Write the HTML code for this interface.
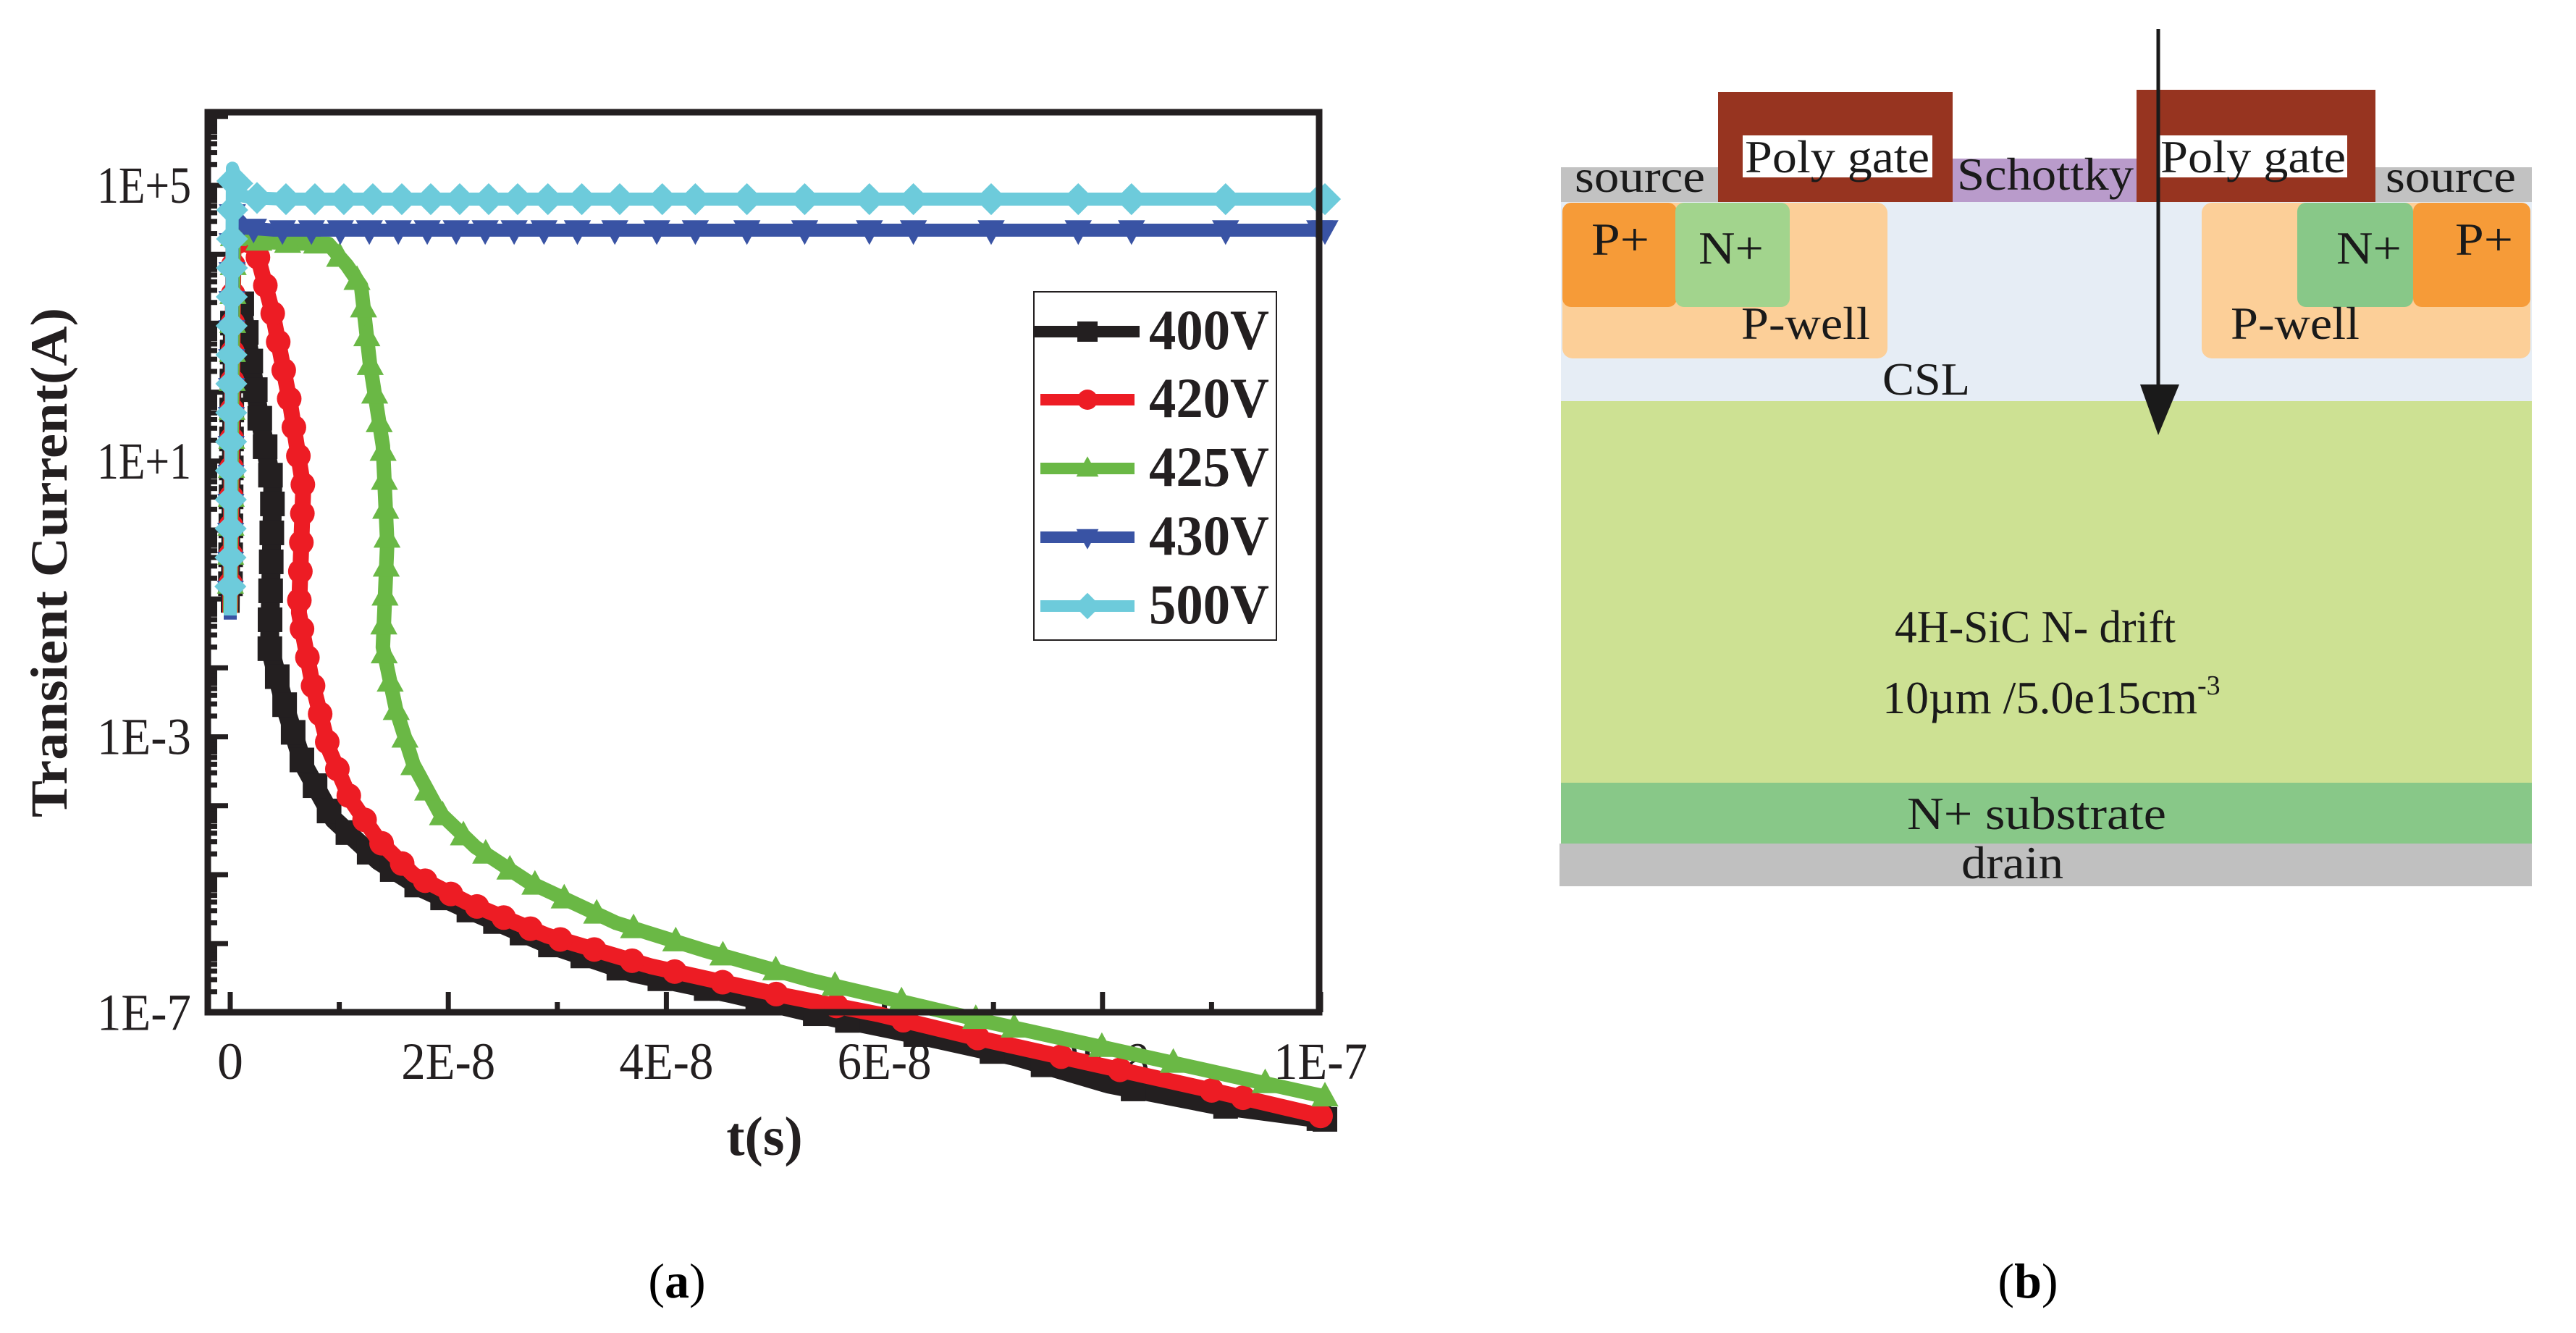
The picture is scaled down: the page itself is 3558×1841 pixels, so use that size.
<!DOCTYPE html>
<html><head><meta charset="utf-8"><style>
html,body{margin:0;padding:0;background:#fff;}
svg{display:block;font-family:"Liberation Serif",serif;}
text{font-family:"Liberation Serif",serif;}
</style></head><body>
<svg id="root" width="3558" height="1841" viewBox="0 0 3558 1841" xmlns="http://www.w3.org/2000/svg" font-family="Liberation Serif, serif">
<g id="chart"></g>
<g id="diagram">
  <rect x="2156" y="231" width="1341" height="48" fill="#c2c2c2"/>
  <rect x="2156" y="279" width="1341" height="275" fill="#e6edf5"/>
  <rect x="2158" y="280" width="449" height="215" rx="14" fill="#fccf98"/>
  <rect x="3041" y="280" width="454" height="215" rx="14" fill="#fccf98"/>
  <rect x="2158" y="280" width="158" height="144" rx="12" fill="#f69b38"/>
  <rect x="2314" y="280" width="158" height="144" rx="12" fill="#a2d48d"/>
  <rect x="3173" y="280" width="160" height="144" rx="12" fill="#88c888"/>
  <rect x="3333" y="280" width="162" height="144" rx="12" fill="#f69b38"/>
  <rect x="2156" y="554" width="1341" height="527" fill="#cde193"/>
  <rect x="2156" y="1081" width="1341" height="84" fill="#88c888"/>
  <rect x="2154" y="1165" width="1343" height="59" fill="#c0c0c0"/>
  <rect x="2697" y="219" width="254" height="60" fill="#b99bcb"/>
  <rect x="2373" y="127" width="324" height="152" fill="#973420"/>
  <rect x="2407" y="187" width="262" height="58" fill="#fff"/>
  <rect x="2951" y="124" width="330" height="155" fill="#973420"/>
  <rect x="2982" y="187" width="260" height="58" fill="#fff"/>
  <g font-size="64" fill="#1a1a1a" font-family="Liberation Serif, serif">
    <text x="2410" y="238" textLength="255" lengthAdjust="spacingAndGlyphs">Poly gate</text>
    <text x="2984" y="238" textLength="256" lengthAdjust="spacingAndGlyphs">Poly gate</text>
    <text x="2175" y="265" textLength="180" lengthAdjust="spacingAndGlyphs">source</text>
    <text x="3295" y="265" textLength="180" lengthAdjust="spacingAndGlyphs">source</text>
    <text x="2703" y="262" textLength="244" lengthAdjust="spacingAndGlyphs">Schottky</text>
    <text x="2198" y="352" textLength="80" lengthAdjust="spacingAndGlyphs">P+</text>
    <text x="2346" y="364" textLength="90" lengthAdjust="spacingAndGlyphs">N+</text>
    <text x="3227" y="364" textLength="90" lengthAdjust="spacingAndGlyphs">N+</text>
    <text x="3391" y="352" textLength="80" lengthAdjust="spacingAndGlyphs">P+</text>
    <text x="2405" y="468" textLength="178" lengthAdjust="spacingAndGlyphs">P-well</text>
    <text x="3081" y="468" textLength="178" lengthAdjust="spacingAndGlyphs">P-well</text>
    <text x="2600" y="545" textLength="121" lengthAdjust="spacingAndGlyphs">CSL</text>
    <text x="2617" y="887" textLength="388" lengthAdjust="spacingAndGlyphs">4H-SiC N- drift</text>
    <text x="2600" y="985">10µm /5.0e15cm<tspan font-size="38" dy="-26">-3</tspan></text>
    <text x="2634" y="1145" textLength="358" lengthAdjust="spacingAndGlyphs">N+ substrate</text>
    <text x="2709" y="1213" textLength="141" lengthAdjust="spacingAndGlyphs">drain</text>
  </g>
  <line x1="2981" y1="40" x2="2981" y2="540" stroke="#1a1a1a" stroke-width="5"/>
  <polygon points="2956,531 3010,531 2981,601" fill="#1a1a1a"/>
</g>
<text x="935" y="1792" font-size="68" text-anchor="middle" font-family="Liberation Serif, serif">(<tspan font-weight="bold">a</tspan>)</text>
<text x="2801" y="1792" font-size="68" text-anchor="middle" font-family="Liberation Serif, serif">(<tspan font-weight="bold">b</tspan>)</text>
</svg>
<script>
// time in units of 1e-8 s, current as log10(A)
const tickLabelsX = ["0","2E-8","4E-8","6E-8","8E-8","1E-7"];
const tickValuesX = [0,2,4,6,8,10];
const tickLabelsY = ["1E+5","1E+1","1E-3","1E-7"];
const tickValuesY = [5,1,-3,-7];
const seriesNames = ["400V","420V","425V","430V","500V"];
const t400 = [0,0.02,0.1,0.27,0.39,0.36,0.51,0.67,0.95,1.36,1.76,2.17,2.9,3.7,4.6,5.4,6.2,7.2,8.06,9.03,10.04];
const i400 = [-1.2,3.0,3.34,1.63,0.62,-1.7,-2.6,-3.4,-4.2,-4.8,-5.2,-5.5,-6.0,-6.43,-6.73,-7.03,-7.29,-7.64,-8.04,-8.34,-8.55];
const t420 = [0,0.03,0.23,0.39,0.55,0.67,0.63,0.75,0.91,1.1,1.36,1.68,2.17,2.9,3.86,5.0,5.96,6.77,7.9,9.03,10.0];
const i420 = [-1.2,4.2,4.1,3.14,1.83,0.62,-1.2,-2.2,-3.2,-3.9,-4.5,-5.0,-5.4,-5.88,-6.33,-6.73,-7.03,-7.34,-7.74,-8.14,-8.5];
const t425 = [0,0.03,0.3,0.6,0.9,1.07,1.2,1.28,1.4,1.44,1.4,1.52,1.68,1.92,2.25,2.73,3.54,4.35,5.32,6.13,6.93,8.39,10.04];
const i425 = [-1.2,4.3,4.18,4.16,4.15,3.84,3.54,2.43,1.22,-0.19,-1.7,-2.6,-3.4,-4.1,-4.6,-5.1,-5.7,-6.1,-6.53,-6.83,-7.13,-7.64,-8.22];
const t430 = [0,0.02,0.15,0.4,1.0,2.0,4.0,6.0,8.0,10.04];
const i430 = [-1.3,4.6,4.38,4.35,4.35,4.35,4.35,4.35,4.35,4.35];
const t500 = [0,0.02,0.1,0.2,0.5,1.0,2.0,4.0,6.0,8.0,10.04];
const i500 = [-1.24,5.25,4.85,4.82,4.8,4.8,4.8,4.8,4.8,4.8,4.8];

const NS = "http://www.w3.org/2000/svg";
const FF = "Liberation Serif, serif";
const chart = document.getElementById('chart');
const L = 287, R = 1822, T = 155, B = 1398;
const X0 = 318, XS = 150.6;
const Y5 = 256, YS = 95.2;
function xs(t){ return X0 + t*XS; }
function ys(l){ return Y5 + (5-l)*YS; }
function mk(tag, attrs){ const e=document.createElementNS(NS,tag); for(const k in attrs) e.setAttribute(k,attrs[k]); return e; }

const colors = ["#231f20","#ed1c24","#6ab845","#3953a4","#6dcbdb"];
const shapes = ["square","circle","up","down","diamond"];
const allT = [t400,t420,t425,t430,t500];
const allI = [i400,i420,i425,i430,i500];
const widths = [26,22,20,18,18];

function marker(shape, x, y, r, color){
  let e;
  if(shape==="square") e = mk('rect',{x:x-r,y:y-r,width:2*r,height:2*r,fill:color});
  else if(shape==="circle") e = mk('circle',{cx:x,cy:y,r:r,fill:color});
  else if(shape==="up") e = mk('polygon',{points:`${x},${y-r*1.2} ${x+r*1.1},${y+r*0.8} ${x-r*1.1},${y+r*0.8}`,fill:color});
  else if(shape==="down") e = mk('polygon',{points:`${x},${y+r*1.2} ${x+r*1.1},${y-r*0.8} ${x-r*1.1},${y-r*0.8}`,fill:color});
  else e = mk('polygon',{points:`${x},${y-r*1.3} ${x+r*1.3},${y} ${x},${y+r*1.3} ${x-r*1.3},${y}`,fill:color});
  return e;
}

const tickG = mk('g',{stroke:"#231f20","stroke-width":7});


chart.appendChild(tickG);
for(let d=-7; d<=6; d++){
  const y=ys(d); if(y>=T && y<=B) tickG.appendChild(mk('line',{x1:L,y1:y,x2:L+28,y2:y}));
  for(let m=2;m<=9;m++){ const ym=ys(d+Math.log10(m)); if(ym>T&&ym<B) tickG.appendChild(mk('line',{x1:L,y1:ym,x2:L+13,y2:ym})); }
}
for(let t=0;t<=10;t++){
  const x=xs(t); tickG.appendChild(mk('line',{x1:x,y1:B,x2:x,y2:B-(t%2===0?28:14)}));
}
tickLabelsX.forEach((s,i)=>{
  const e=mk('text',{x:xs(tickValuesX[i]),y:1490,"font-size":72,"text-anchor":"middle",fill:"#231f20","font-family":FF});
  e.textContent=s;
  
  
  if(s.length>1){ e.setAttribute('textLength',130); e.setAttribute('lengthAdjust','spacingAndGlyphs'); }
  chart.appendChild(e);
});
tickLabelsY.forEach((s,i)=>{
  const e=mk('text',{x:264,y:ys(tickValuesY[i])+24,"font-size":72,"text-anchor":"end",fill:"#231f20",textLength:130,lengthAdjust:"spacingAndGlyphs","font-family":FF});
  e.textContent=s;
  
  
  chart.appendChild(e);
});
const xt=mk('text',{x:1056,y:1595,"font-size":76,"font-weight":"bold","text-anchor":"middle",fill:"#231f20","font-family":FF});
xt.textContent="t(s)";


chart.appendChild(xt);
const yt=mk('text',{x:0,y:0,"font-size":72,"font-weight":"bold","text-anchor":"middle",fill:"#231f20",transform:"translate(92,777) rotate(-90)",textLength:704,lengthAdjust:"spacingAndGlyphs","font-family":FF});
yt.textContent="Transient Current(A)";


chart.appendChild(yt);

for(let s=0;s<5;s++){
  const g=mk('g',{});
  
  
  const pts=allT[s].map((t,i)=>[xs(t),ys(allI[s][i])]);
  const pl=mk('polyline',{points:pts.map(p=>p.join(',')).join(' '),fill:"none",stroke:colors[s],"stroke-width":widths[s],"stroke-linejoin":"round"});
  
  
  g.appendChild(pl);
  let acc=0; const step=40;
  for(let i=1;i<pts.length;i++){
    const dx=pts[i][0]-pts[i-1][0], dy=pts[i][1]-pts[i-1][1];
    const len=Math.hypot(dx,dy);
    let d=step-acc;
    while(d<=len){
      const f=d/len;
      const px=pts[i-1][0]+dx*f;
      const m=marker(shapes[s],px,pts[i-1][1]+dy*f,17,colors[s]);
      
      
      g.appendChild(m);
      d+=(px>700?Math.min(130,step+(px-700)*0.12):step);
    }
    acc=len-(d-step); if(acc<0)acc=0;
  }
  const end=pts[pts.length-1];
  const me=marker(shapes[s],end[0],end[1],17,colors[s]);
  
  
  g.appendChild(me);
  chart.appendChild(g);
}

const fr=mk('rect',{x:L,y:T,width:R-L,height:B-T,fill:"none",stroke:"#231f20","stroke-width":9});


chart.appendChild(fr);

const lg=mk('g',{});


chart.appendChild(lg);
const lb=mk('rect',{x:1428,y:403,width:335,height:481,fill:"#fff",stroke:"#231f20","stroke-width":2});


lg.appendChild(lb);
const ly=[458,552,647,742,837];
for(let s=0;s<5;s++){
  const e=mk('g',{});
  
  
  e.appendChild(mk('line',{x1:s===0?1429:1437,y1:ly[s],x2:s===0?1574:1567,y2:ly[s],stroke:colors[s],"stroke-width":16}));
  e.appendChild(marker(shapes[s],1502,ly[s],14,colors[s]));
  const tx=mk('text',{x:1587,y:ly[s]+24,"font-size":78,"font-weight":"bold",fill:"#231f20",textLength:166,lengthAdjust:"spacingAndGlyphs","font-family":FF});
  tx.textContent=seriesNames[s];
  e.appendChild(tx);
  lg.appendChild(e);
}
</script>
</body></html>
